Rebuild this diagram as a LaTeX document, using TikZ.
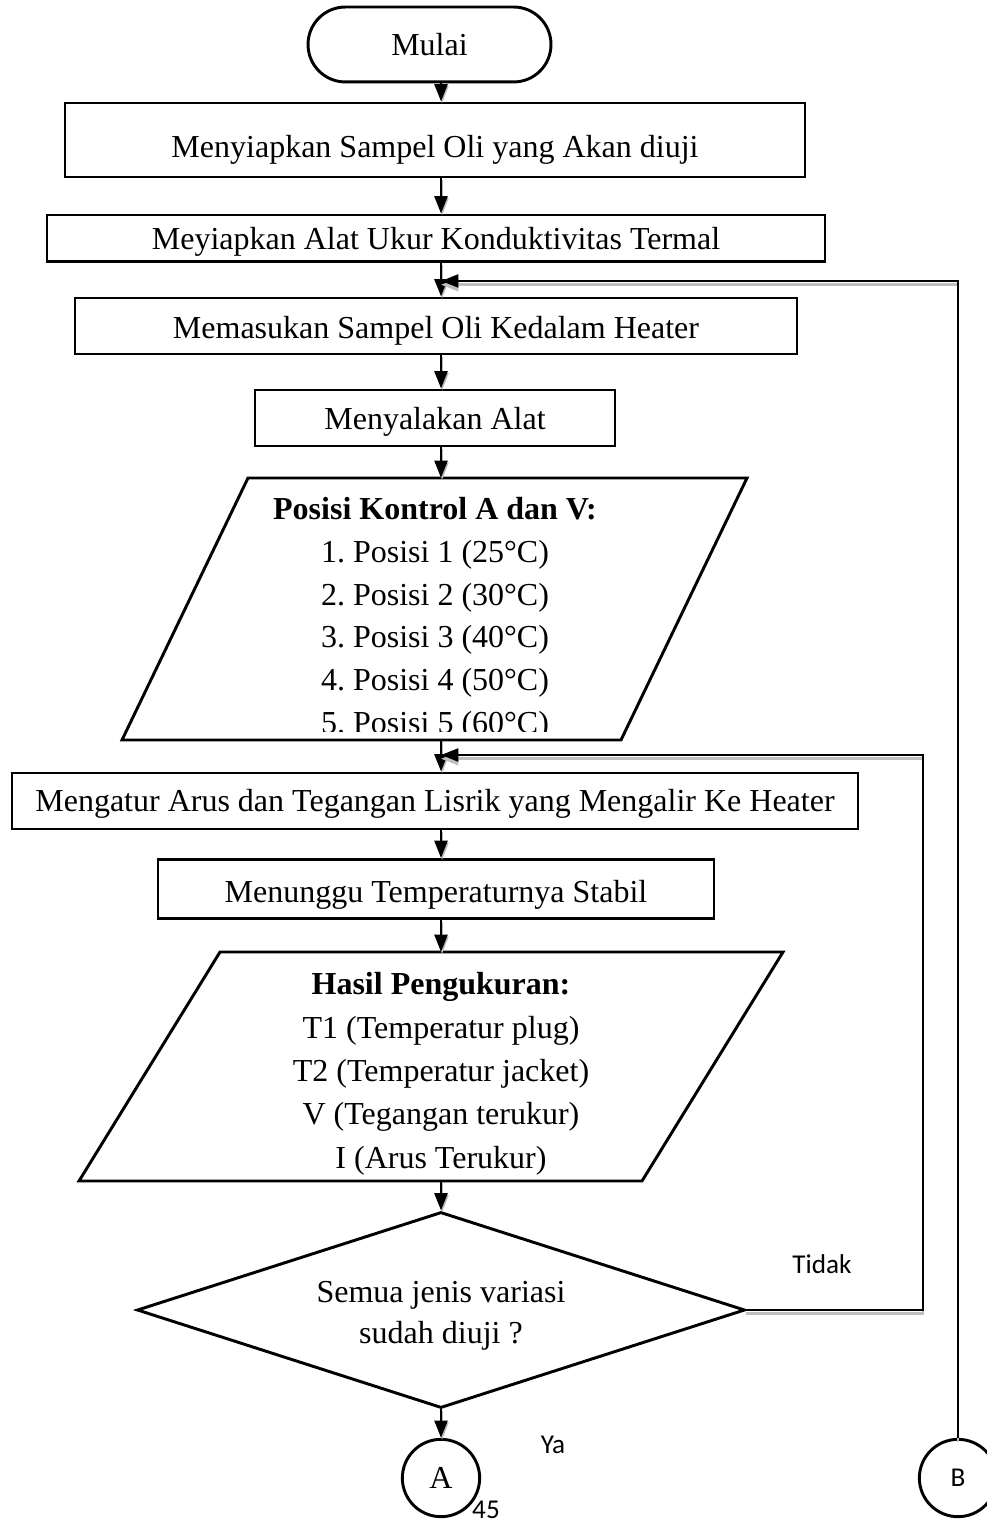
\documentclass[tikz,border=0pt]{standalone}
\usepackage{fontspec}
\setmainfont{Liberation Serif}
\newfontfamily\lblfont{Carlito}
\usetikzlibrary{arrows.meta,shapes.geometric}
\frenchspacing
\begin{document}
\begin{tikzpicture}[x=0.375pt,y=-0.375pt,
  every node/.style={font=\fontsize{12pt}{16pt}\selectfont},
  procbox/.style={draw, line width=1.1pt, inner sep=0pt, align=center, text depth=1.6pt},
  outline/.style={draw, line width=1.1pt, line join=miter},
  flow/.style={line width=1.1pt, -{Triangle[length=6.5pt,width=4.8pt]},
    preaction={draw=gray!55, line width=0.8pt, -{Triangle[length=6.5pt,width=4.8pt]},
      transform canvas={shift={(0.4pt,-0.7pt)}}}},
  loopline/.style={line width=1.1pt, -{Triangle[length=6.5pt,width=4.8pt]},
    preaction={draw=gray!50, line width=1pt, -{Triangle[length=6.5pt,width=4.8pt]},
      transform canvas={yshift=-1.4pt}}},
  connector/.style={draw, circle, line width=1.1pt, inner sep=0pt, minimum size=29pt},
  lbl/.style={font=\lblfont\fontsize{10.2pt}{12pt}\selectfont, inner sep=0pt},
]
\useasboundingbox (0,0) rectangle (986,1524);

% vertical axis along which the main flow runs
\coordinate (spine) at (441,0);

% start terminal and first process steps
\node[draw, line width=1.1pt, inner sep=0pt, rounded corners=14pt, minimum width=91.1pt, minimum height=28.1pt] (start) at (429.5,44.5) {Mulai};
\node[procbox, text height=14.7pt, minimum width=277.5pt, minimum height=27.75pt] (b1) at (435,140) {Menyiapkan Sampel Oli yang Akan diuji};
\node[procbox, text height=10.2pt, minimum width=291.75pt, minimum height=17.6pt] (b2) at (436,238.5) {Meyiapkan Alat Ukur Konduktivitas Termal};
\node[procbox, text height=11pt, minimum width=270.75pt, minimum height=21pt] (b3) at (436,326) {Memasukan Sampel Oli Kedalam Heater};
\node[procbox, text height=10.2pt, minimum width=135pt, minimum height=21pt] (b4) at (435,418) {Menyalakan Alat};

% input: control positions
\coordinate (p1a) at (248,478);
\coordinate (p1b) at (747,478);
\coordinate (p1c) at (621,740);
\coordinate (p1d) at (122,740);
\coordinate (p1top) at (441,478);
\coordinate (p1bot) at (441,740);
\begin{scope}
  \clip (p1a) -- (p1b) -- (621,731) -- (122,731) -- cycle;
  \node[anchor=north, inner sep=0pt, align=center] (p1txt) at (435,497)
    {\textbf{Posisi Kontrol A dan V:}\\1. Posisi 1 (25°C)\\2. Posisi 2 (30°C)\\3. Posisi 3 (40°C)\\4. Posisi 4 (50°C)\\5. Posisi 5 (60°C)};
\end{scope}
\draw[outline] (p1a) -- (p1b) -- (p1c) -- (p1d) -- cycle;

\node[procbox, text height=9.4pt, minimum width=317.25pt, minimum height=21pt] (b5) at (435,801) {Mengatur Arus dan Tegangan Lisrik yang Mengalir Ke Heater};
\node[procbox, text height=11.7pt, minimum width=208.5pt, minimum height=22.1pt] (b6) at (436,889) {Menunggu Temperaturnya Stabil};

% output: measurement results
\coordinate (p2a) at (220,952);
\coordinate (p2b) at (783,952);
\coordinate (p2c) at (642,1181);
\coordinate (p2d) at (79,1181);
\coordinate (p2top) at (441,952);
\coordinate (p2bot) at (441,1181);
\draw[outline] (p2a) -- (p2b) -- (p2c) -- (p2d) -- cycle;
\node[anchor=north, inner sep=0pt, align=center, font=\fontsize{12pt}{16.25pt}\selectfont] (p2txt) at (441,972)
  {\textbf{Hasil Pengukuran:}\\T1 (Temperatur plug)\\T2 (Temperatur jacket)\\V (Tegangan terukur)\\I (Arus Terukur)};

% decision
\node[draw, diamond, shape aspect=3.1, line width=1.1pt, inner sep=0pt, minimum width=228pt, minimum height=73.5pt,
  label={[name=dectxt, yshift=-2.3pt, align=center, inner sep=0pt, font=\fontsize{12pt}{15.4pt}\selectfont]center:Semua jenis variasi\\sudah diuji ?}]
  (dec) at (441,1310) {};

% off-page connectors
\node[connector] (cA) at (441,1478) {A};
\node[connector, font=\lblfont\fontsize{10.2pt}{12pt}\selectfont] (cB) at (958,1478) {B};

% labels
\node[lbl] (tidak) at (822,1264) {Tidak};
\node[lbl] (ya) at (553,1445) {Ya};
\node[lbl] (pagenum) at (486,1510) {45};

% main flow
\draw[flow] (start.south -| spine) -- (b1.north -| spine);
\draw[flow] (b1.south -| spine) -- (b2.north -| spine);
\draw[flow] (b2.south -| spine) -- (b3.north -| spine);
\draw[flow] (b3.south -| spine) -- (b4.north -| spine);
\draw[flow] (b4.south -| spine) -- (p1top);
\draw[flow] (p1bot) -- (b5.north -| spine);
\draw[flow] (b5.south -| spine) -- (b6.north -| spine);
\draw[flow] (b6.south -| spine) -- (p2top);
\draw[flow] (p2bot) -- (dec.north);
\draw[flow] (dec.south) -- (cA.north);

% return loops
\coordinate (loopA) at (923,755);
\coordinate (entryA) at (441,755);
\draw[loopline] (dec.east) -| (loopA) -- (entryA);
\coordinate (entryB) at (441,281);
\draw[loopline] (cB.north) -- (cB.north |- entryB) -- (entryB);
\end{tikzpicture}
\end{document}
